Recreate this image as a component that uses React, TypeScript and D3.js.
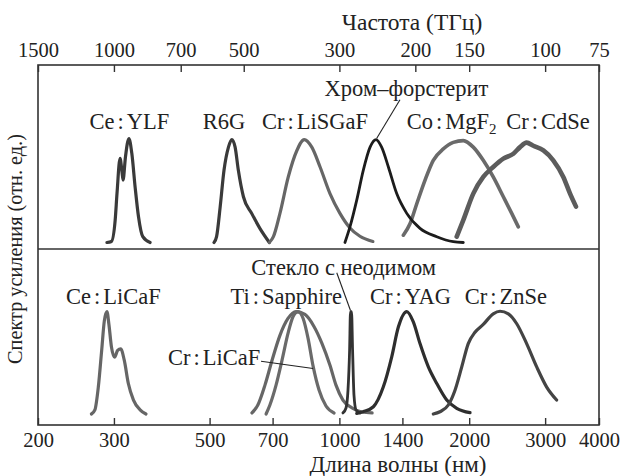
import React, { useRef, useEffect } from 'react'
import * as d3 from 'd3'

// wavelength ticks (nm) and frequency ticks (THz)
const wavelengthTicks = [200, 300, 500, 700, 1000, 1400, 2000, 3000, 4000]
const freqTicks = [1500, 1000, 700, 500, 300, 200, 150, 100, 75]

// gain spectra: [wavelength nm, relative gain]
// upper panel
const ceYlf = [[289, 0], [296, 0.01], [302, 0.215], [305, 0.474], [310, 0.81], [313, 0.69], [315, 0.6], [319, 0.82], [325, 1.0], [330, 0.86], [336, 0.53], [342, 0.25], [350, 0.056], [364, 0]]
const r6g = [[512, 0], [519, 0.056], [529, 0.34], [540, 0.694], [553, 0.917], [563, 0.99], [573, 0.917], [583, 0.694], [599, 0.44], [626, 0.28], [654, 0.136], [688, 0]]
const crLiSGaF = [[688, 0], [703, 0.056], [728, 0.28], [761, 0.63], [796, 0.88], [829, 0.99], [863, 0.917], [902, 0.726], [951, 0.47], [1003, 0.28], [1058, 0.14], [1116, 0.06], [1196, 0.01]]
const forsterite = [[1030, 0], [1058, 0.15], [1097, 0.407], [1136, 0.694], [1178, 0.917], [1216, 0.99], [1253, 0.917], [1299, 0.726], [1358, 0.47], [1433, 0.28], [1538, 0.136], [1682, 0.056], [1837, 0.008], [1938, 0]]
const coMgF2 = [[1407, 0.07], [1458, 0.18], [1511, 0.37], [1580, 0.6], [1651, 0.79], [1742, 0.9], [1837, 0.963], [1938, 0.98], [2044, 0.917], [2156, 0.79], [2274, 0.63], [2400, 0.44], [2510, 0.28], [2600, 0.15]]
const crCdSe = [[1871, 0.056], [1938, 0.215], [2044, 0.47], [2156, 0.63], [2274, 0.726], [2400, 0.806], [2532, 0.854], [2624, 0.917], [2718, 0.96], [2817, 0.93], [2972, 0.885], [3133, 0.79], [3306, 0.63], [3427, 0.47], [3538, 0.345]]

// lower panel
const ceLiCaF = [[266, 0], [271, 0.04], [276, 0.26], [281, 0.615], [285, 0.9], [289, 0.99], [292, 0.87], [296, 0.65], [301, 0.55], [306, 0.615], [311, 0.63], [317, 0.52], [324, 0.295], [333, 0.135], [345, 0.04], [356, 0]]
const tiSapphire = [[627, 0.01], [647, 0.087], [672, 0.279], [698, 0.519], [728, 0.76], [760, 0.923], [793, 0.99], [832, 0.962], [873, 0.846], [911, 0.683], [951, 0.471], [982, 0.279], [1019, 0.135], [1070, 0.058], [1128, 0.019], [1191, 0.01]]
const crLiCaF = [[676, 0], [690, 0.087], [713, 0.279], [736, 0.519], [760, 0.779], [781, 0.942], [802, 0.99], [824, 0.923], [846, 0.731], [869, 0.462], [897, 0.231], [931, 0.077], [972, 0.01]]
const ndGlass = [[1019, 0.01], [1036, 0.058], [1047, 0.23], [1056, 0.615], [1061, 0.99], [1067, 0.99], [1073, 0.615], [1081, 0.183], [1093, 0.038], [1116, 0.01]]
const crYag = [[1097, 0.006], [1136, 0.022], [1199, 0.07], [1264, 0.26], [1322, 0.55], [1370, 0.84], [1433, 0.99], [1484, 0.89], [1538, 0.68], [1608, 0.455], [1682, 0.295], [1774, 0.135], [1871, 0.055], [2009, 0.013]]
const crZnSe = [[1651, 0], [1711, 0.022], [1789, 0.087], [1854, 0.23], [1922, 0.455], [1990, 0.68], [2063, 0.79], [2156, 0.865], [2274, 0.968], [2358, 0.993], [2465, 0.968], [2578, 0.872], [2718, 0.68], [2868, 0.455], [3025, 0.26], [3190, 0.135]]

function App() {
    const svgRef = useRef(null)

    useEffect(() => {
        const width = 624
        const height = 476
        const left = 38, right = 599, top = 65, bottom = 425, mid = 249
        const font = '"Liberation Serif", "Times New Roman", serif'

        const svg = d3.select(svgRef.current)
            .attr('width', width)
            .attr('height', height)
        svg.selectAll('*').remove()

        const x = d3.scaleLog().domain([200, 4000]).range([left, right])
        const yTop = d3.scaleLinear().domain([0, 1]).range([242.5, 138.5])
        const yBot = d3.scaleLinear().domain([0, 1]).range([414, 310.5])

        const series = [
            { data: ceYlf, y: yTop, color: '#3a3a3a', w: 3.2 },
            { data: r6g, y: yTop, color: '#3a3a3a', w: 3.2 },
            { data: crLiSGaF, y: yTop, color: '#666', w: 3.2 },
            { data: coMgF2, y: yTop, color: '#6a6a6a', w: 3.6 },
            { data: crCdSe, y: yTop, color: '#5c5c5c', w: 4.6 },
            { data: forsterite, y: yTop, color: '#1c1c1c', w: 2.8 },
            { data: ceLiCaF, y: yBot, color: '#666', w: 3.2 },
            { data: tiSapphire, y: yBot, color: '#666', w: 3.2 },
            { data: crLiCaF, y: yBot, color: '#6a6a6a', w: 3.2 },
            { data: ndGlass, y: yBot, color: '#333', w: 2.8 },
            { data: crYag, y: yBot, color: '#2e2e2e', w: 3.2 },
            { data: crZnSe, y: yBot, color: '#444', w: 3.2 },
        ]

        const g = svg.append('g')
        series.forEach(s => {
            const line = d3.line()
                .x(d => x(d[0]))
                .y(d => s.y(d[1]))
                .curve(d3.curveMonotoneX)
            g.append('path')
                .attr('d', line(s.data))
                .attr('fill', 'none')
                .attr('stroke', s.color)
                .attr('stroke-width', s.w)
                .attr('stroke-linejoin', 'round')
                .attr('stroke-linecap', 'round')
        })

        // frame and divider
        svg.append('rect')
            .attr('x', left).attr('y', top)
            .attr('width', right - left).attr('height', bottom - top)
            .attr('fill', 'none').attr('stroke', '#333').attr('stroke-width', 1.6)
        svg.append('line')
            .attr('x1', left).attr('x2', right).attr('y1', mid).attr('y2', mid)
            .attr('stroke', '#333').attr('stroke-width', 1.6)

        // axes
        const xAxis = svg.append('g')
            .attr('transform', `translate(0, ${bottom})`)
            .call(d3.axisBottom(x).tickValues(wavelengthTicks).tickFormat(d3.format('d'))
                .tickSizeInner(-7).tickSizeOuter(0).tickPadding(7))
        const topAxis = svg.append('g')
            .attr('transform', `translate(0, ${top})`)
            .call(d3.axisTop(x).tickValues(freqTicks.map(f => 300000 / f))
                .tickFormat(d => String(Math.round(300000 / d)))
                .tickSizeInner(-7).tickSizeOuter(0).tickPadding(8))
        for (const ax of [xAxis, topAxis]) {
            ax.select('.domain').remove()
            ax.selectAll('line').attr('stroke', '#333').attr('stroke-width', 1.4)
            ax.selectAll('text').attr('font-family', font).attr('font-size', 20.5).attr('fill', '#222')
        }

        const text = (tx, ty, s, size = 22.5) => svg.append('text')
            .attr('x', tx).attr('y', ty)
            .attr('text-anchor', 'middle')
            .attr('font-family', font).attr('font-size', size).attr('fill', '#222')
            .text(s)

        // label with a little air around the colon, as in the print
        const label = (tx, ty, s) => {
            const t = svg.append('text')
                .attr('x', tx).attr('y', ty)
                .attr('text-anchor', 'middle')
                .attr('font-family', font).attr('font-size', 22.5).attr('fill', '#222')
            const parts = s.split(':')
            t.append('tspan').text(parts[0])
            if (parts.length > 1) {
                t.append('tspan').attr('dx', 3).text(':')
                t.append('tspan').attr('dx', 3).text(parts[1])
            }
            return t
        }

        // axis titles
        text(412, 30, 'Частота (ТГц)', 23.5)
        text(398, 471.5, 'Длина волны (нм)', 23)
        text(0, 0, 'Спектр усиления (отн. ед.)', 20.3)
            .attr('transform', 'translate(22, 249) rotate(-90)')

        // curve labels, placed in data coordinates
        label(x(326), yTop(1.096), 'Ce:YLF')
        label(x(540), yTop(1.096), 'R6G')
        label(x(878), yTop(1.096), 'Cr:LiSGaF')
        label(x(1431), yTop(1.411), 'Хром–форстерит')
        const co = label(x(1820), yTop(1.096), 'Co:MgF')
        co.append('tspan').attr('font-size', 15).attr('dy', 5).text('2')
        label(x(3046), yTop(1.096), 'Cr:CdSe')

        label(x(299), yBot(1.058), 'Ce:LiCaF')
        label(x(753), yBot(1.058), 'Ti:Sapphire')
        label(x(1023), yBot(1.346), 'Стекло с неодимом')
        label(x(512), yBot(0.47), 'Cr:LiCaF')
        label(x(1462), yBot(1.067), 'Cr:YAG')
        label(x(2434), yBot(1.067), 'Cr:ZnSe')

        // leader lines
        const leader = (x1, y1, x2, y2) => svg.append('line')
            .attr('x1', x1).attr('y1', y1).attr('x2', x2).attr('y2', y2)
            .attr('stroke', '#222').attr('stroke-width', 1.1)
        leader(x(1220), yTop(1.0), x(1382), yTop(1.373))
        leader(x(1061), yBot(1.0), x(986), yBot(1.365))
        leader(x(658), yBot(0.51), x(869), yBot(0.44))
    }, [])

    return (
        <svg ref={svgRef} style={{ position: 'absolute', left: 0, top: 0, background: '#fff' }}></svg>
    )
}

export default App
